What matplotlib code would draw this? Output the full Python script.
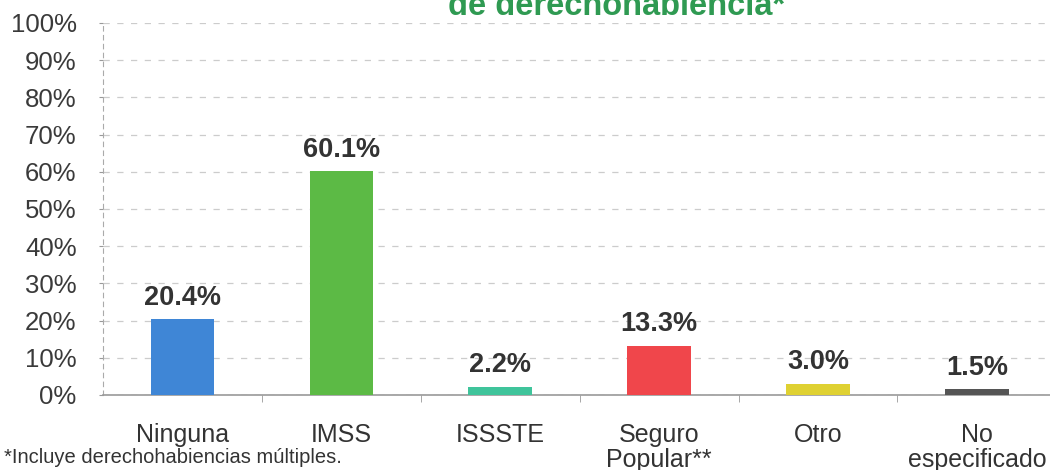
import matplotlib.pyplot as plt
from matplotlib.ticker import PercentFormatter

plt.rcParams['font.family'] = ['Liberation Sans', 'DejaVu Sans']

categories = ['Ninguna', 'IMSS', 'ISSSTE', 'Seguro\nPopular**', 'Otro', 'No\nespecificado']
values = [20.4, 60.1, 2.2, 13.3, 3.0, 1.5]
value_labels = ['20.4%', '60.1%', '2.2%', '13.3%', '3.0%', '1.5%']
colors = ['#3f86d6', '#5cba45', '#3fc49b', '#f0464b', '#dfd132', '#555555']
y_ticks = list(range(0, 101, 10))

fig = plt.figure(figsize=(10.5, 4.7), dpi=100)
ax = fig.add_axes([103 / 1050, 1 - 395 / 470, (1050 - 103) / 1050, (395 - 23) / 470])

x = list(range(len(categories)))
ax.bar(x, values, width=0.40, color=colors, zorder=3)

for xi, v, lab in zip(x, values, value_labels):
    ax.text(xi, v + 2.3, lab, ha='center', va='bottom', fontsize=19.5,
            fontweight='bold', color='#333333', zorder=4)

ax.set_xlim(-0.5, 5.46)
ax.set_ylim(0, 100)
ax.set_yticks(y_ticks)
ax.yaxis.set_major_formatter(PercentFormatter(decimals=0))
ax.tick_params(axis='y', labelsize=18.5, labelcolor='#3a3a3a', length=3,
               color='#999999', pad=16)

ax.set_xticks(x)
ax.set_xticklabels(categories, fontsize=18, color='#333333', linespacing=1.05)
ax.set_xticks([i + 0.5 for i in range(5)], minor=True)
ax.tick_params(axis='x', which='major', length=0, pad=20)
ax.tick_params(axis='x', which='minor', length=5, color='#999999', direction='out')

ax.grid(axis='y', color='#cccccc', linestyle=(0, (5, 6)), linewidth=0.9, zorder=0)
for s in ['top', 'right']:
    ax.spines[s].set_visible(False)
ax.spines['left'].set_linestyle((0, (4, 4)))
ax.spines['left'].set_color('#aaaaaa')
ax.spines['bottom'].set_color('#999999')
ax.spines['bottom'].set_linewidth(1.2)

fig.text(0.587, 1.02, 'de derechohabiencia*', ha='center', va='top', fontsize=23.5,
         fontweight='bold', color='#2f9a52')
fig.text(0.004, 0.006, '*Incluye derechohabiencias múltiples.', ha='left', va='bottom',
         fontsize=14.5, color='#333333')

plt.savefig('out.png', dpi=100)
